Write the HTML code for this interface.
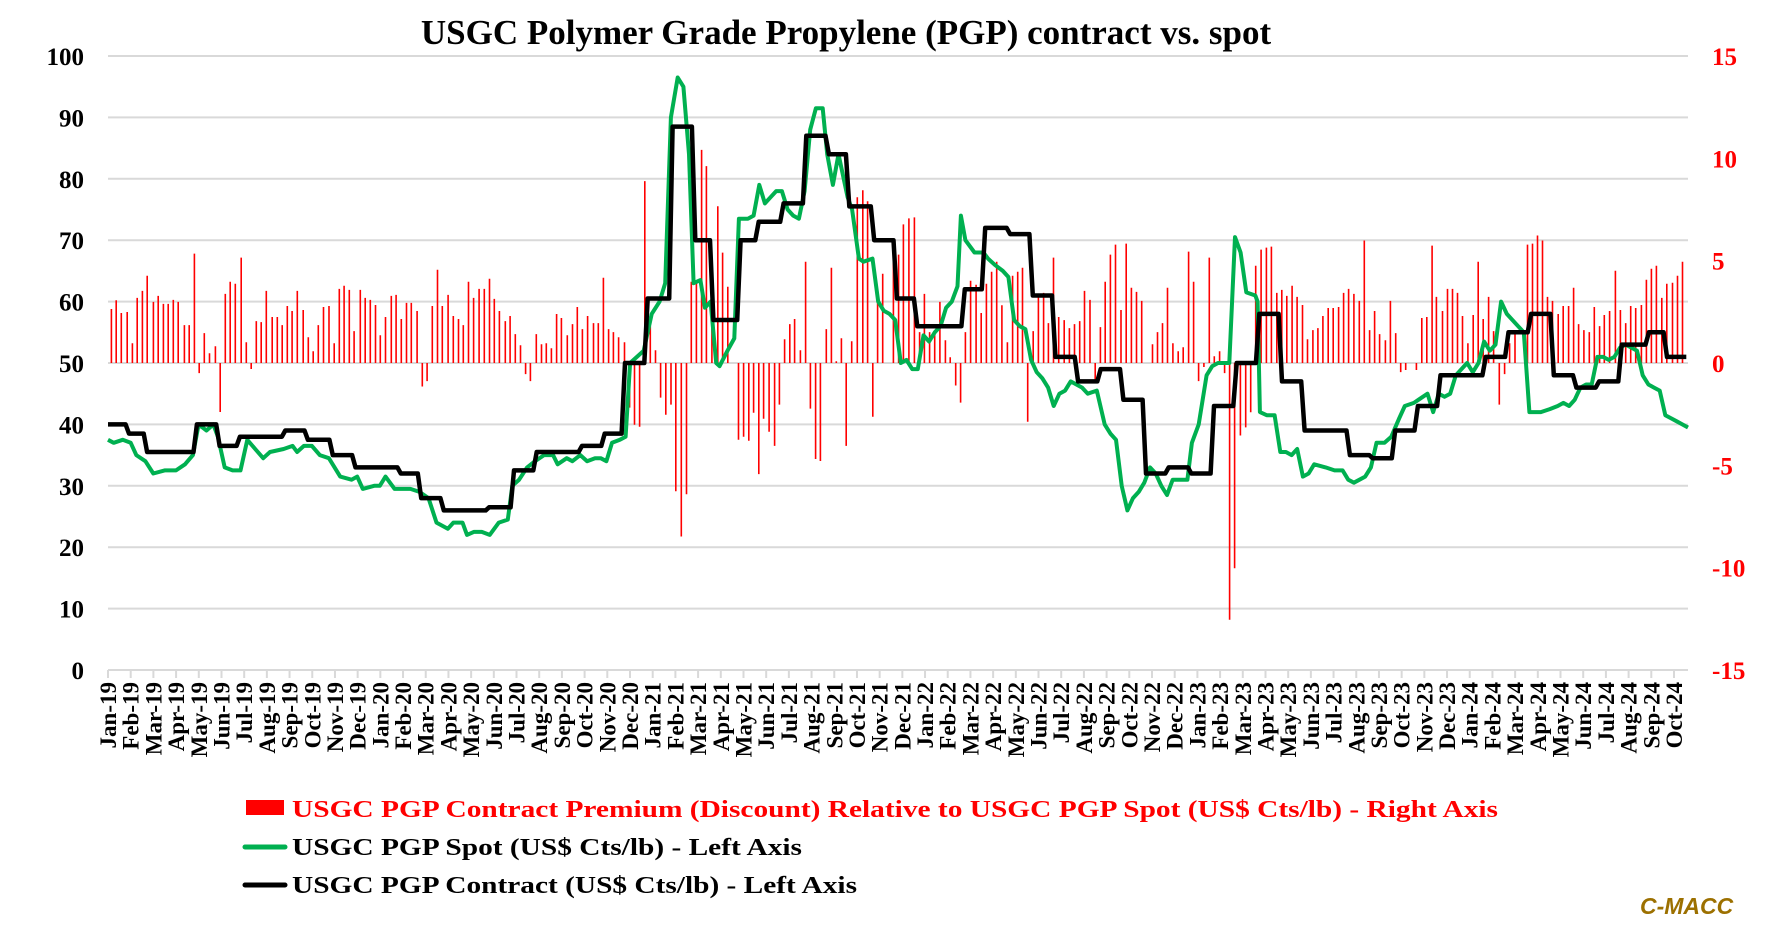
<!DOCTYPE html>
<html><head><meta charset="utf-8">
<style>
html,body{margin:0;padding:0;background:#fff;}
body{width:1770px;height:925px;overflow:hidden;position:relative;font-family:"Liberation Serif",serif;}
svg{position:absolute;left:0;top:0;}
</style></head>
<body>
<svg id="c" width="1770" height="925" xmlns="http://www.w3.org/2000/svg"></svg>
<script>
const S=document.getElementById('c');const NS='http://www.w3.org/2000/svg';
function el(t,a,txt){const e=document.createElementNS(NS,t);for(const k in a)e.setAttribute(k,a[k]);if(txt!==undefined)e.textContent=txt;S.appendChild(e);return e;}
const L=108,R=1688,T=56,B=670;
const Y=v=>B-v*(B-T)/100;
const YR=v=>(T+B)/2-v*(B-T)/30;
const X=dx=>L+(dx-95)*(R-L)/(1490-95);
el('text',{x:846,y:44,'text-anchor':'middle','font-size':35,'font-weight':'bold',fill:'#000'},'USGC Polymer Grade Propylene (PGP) contract vs. spot');
for(let v=0;v<=100;v+=10){el('line',{x1:L,x2:R,y1:Y(v),y2:Y(v),stroke:'#d9d9d9','stroke-width':2});
el('text',{x:84,y:Y(v)+9,'text-anchor':'end','font-size':25,'font-weight':'bold'},String(v));}
[15,10,5,0,-5,-10,-15].forEach(v=>el('text',{x:1712,y:YR(v)+9,'font-size':25,'font-weight':'bold',fill:'#f00'},String(v)));
const mn=['Jan','Feb','Mar','Apr','May','Jun','Jul','Aug','Sep','Oct','Nov','Dec'];
let labs=[];for(let y=19;y<=24;y++)for(let m=0;m<12;m++){if(y==24&&m>9)break;labs.push(mn[m]+'-'+y);}
const lx0=108,lx1=1674;
labs.forEach((s,i)=>{const x=lx0+i*(lx1-lx0)/(labs.length-1);
el('line',{x1:x,x2:x,y1:B,y2:B+8,stroke:'#d9d9d9','stroke-width':2});
el('text',{x:0,y:0,transform:`translate(${x+8},${B+12}) rotate(-90)`,'text-anchor':'end','font-size':23,'font-weight':'bold'},s);});
const C=[[95,112,40],[112,128,38.5],[128,172,35.5],[172,192,40],[192,210,36.5],[210,250,38],[250,270,39],[270,292,37.5],[292,312,35],[312,352,33],[352,370,32],[370,390,28],[390,430,26],[430,452,26.5],[452,472,32.5],[472,512,35.5],[512,532,36.5],[532,550,38.5],[550,570,50],[570,592,60.5],[592,612,88.5],[612,628,70],[628,652,57],[652,668,70],[668,690,73],[690,710,76],[710,730,87],[730,748,84],[748,770,75.5],[770,790,70],[790,808,60.5],[808,850,56],[850,868,62],[868,890,72],[890,910,71],[910,930,61],[930,950,51],[950,970,47],[970,990,49],[990,1010,44],[1010,1030,32],[1030,1050,33],[1050,1070,32],[1070,1090,43],[1090,1110,50],[1110,1130,58],[1130,1150,47],[1150,1190,39],[1190,1210,35],[1210,1230,34.5],[1230,1250,39],[1250,1270,43],[1270,1310,48],[1310,1330,51],[1330,1350,55],[1350,1370,58],[1370,1390,48],[1390,1410,46],[1410,1430,47],[1430,1454,53],[1454,1470,55],[1470,1490,51]];
const SP=[[95,37.5],[100,37],[108,37.5],[115,37],[120,35],[128,34],[135,32],[145,32.5],[155,32.5],[163,33.5],[170,35],[175,40],[182,39],[188,40],[192,38],[198,33],[205,32.5],[212,32.5],[218,37.5],[225,36],[232,34.5],[238,35.5],[250,36],[258,36.5],[262,35.5],[268,36.5],[275,36.5],[282,35],[290,34.5],[300,31.5],[310,31],[315,31.5],[320,29.5],[330,30],[335,30],[340,31.5],[348,29.5],[355,29.5],[362,29.5],[370,29],[378,28],[385,24],[395,23],[400,24],[408,24],[412,22],[418,22.5],[425,22.5],[432,22],[440,24],[448,24.5],[452,30],[458,31],[465,33],[472,34],[480,35],[488,35],[492,33.5],[500,34.5],[505,34],[512,35],[518,34],[525,34.5],[530,34.5],[535,34],[540,37],[547,37.5],[552,38],[556,50],[562,51],[568,52],[575,58],[582,60],[587,63],[592,90],[598,96.5],[603,95],[608,84],[612,63],[618,63.5],[622,59],[627,60],[632,50],[635,49.5],[642,52],[648,54],[652,73.5],[660,73.5],[665,74],[670,79],[675,76],[680,77],[685,78],[690,78],[695,75],[700,74],[705,73.5],[710,78],[715,88],[720,91.5],[726,91.5],[730,84],[735,79],[740,84],[748,77],[752,75],[758,67],[762,66.5],[770,67],[775,60],[780,58.5],[785,58],[790,57],[795,50],[800,50.5],[805,49],[810,49],[815,54.5],[820,53.5],[825,55],[830,56],[835,59],[840,60],[845,62.5],[848,74],[852,70],[860,68],[868,68],[872,67],[878,66],[885,65],[890,64],[895,57],[900,56],[905,55.5],[910,50.5],[915,48.5],[920,47.5],[925,46],[930,43],[935,45],[940,45.5],[945,47],[950,46.5],[955,46],[960,45],[968,45.5],[975,40],[980,38.5],[985,37.5],[990,30],[995,26],[1000,28],[1005,29],[1010,30.5],[1015,33],[1020,32],[1025,30],[1030,28.5],[1035,31],[1040,31],[1048,31],[1052,37],[1058,40],[1065,48],[1070,49.5],[1075,50],[1085,50],[1090,70.5],[1095,68],[1100,61.5],[1108,61],[1110,60],[1112,42],[1118,41.5],[1125,41.5],[1130,35.5],[1135,35.5],[1140,35],[1145,36],[1150,31.5],[1155,32],[1160,33.5],[1170,33],[1178,32.5],[1185,32.5],[1190,31],[1195,30.5],[1200,31],[1205,31.5],[1210,33],[1215,37],[1222,37],[1228,38],[1235,41],[1240,43],[1248,43.5],[1252,44],[1260,45],[1265,42],[1270,45],[1275,44.5],[1280,45],[1285,48],[1295,50],[1300,48.5],[1305,50],[1310,53.5],[1315,52],[1320,53],[1325,60],[1330,58],[1340,56],[1345,55],[1350,42],[1355,42],[1360,42],[1368,42.5],[1375,43],[1380,43.5],[1385,43],[1390,44],[1395,46],[1400,46.5],[1405,46.5],[1410,51],[1415,51],[1420,50.5],[1425,51],[1430,52.5],[1435,53],[1440,52.5],[1445,52],[1450,48],[1455,46.5],[1460,46],[1465,45.5],[1470,41.5],[1475,41],[1480,40.5],[1485,40],[1490,39.5]];
const Z1=[[33,531],[47,505],[62,543],[79,540],[94,633],[108,498],[123,477],[137,432],[155,510],[169,492],[184,516],[198,516],[213,504],[227,510],[245,579],[259,579],[274,366],[288,722],[303,603],[318,663],[335,642],[349,838],[364,486],[378,450],[393,456],[410,378],[425,630],[439,710],[454,567],[468,570],[483,477],[500,555],[515,555],[529,579],[544,522],[558,537],[573,477],[590,534],[605,615],[619,657],[634,579],[649,525],[665,522],[680,633],[695,471],[709,462],[724,474],[738,597],[756,474],[770,498],[785,504],[800,519],[814,609],[829,555],[846,492],[860,489],[875,561],[890,513],[904,513],[921,537],[936,762],[950,746],[965,522],[980,414],[994,522],[1011,489],[1026,552],[1041,561],[1055,579],[1070,450],[1085,498],[1101,471],[1116,471],[1131,441],[1145,501],[1160,537],[1177,567],[1191,552],[1206,606],[1221,639],[1236,725],[1250,746],[1267,606],[1282,636],[1296,633],[1311,648],[1326,546],[1340,558],[1357,609],[1372,576],[1386,525],[1401,591],[1416,552],[1433,573],[1447,573],[1462,438],[1477,591],[1491,600],[1506,615]];
const Z2=[[13,630],[28,825],[42,876],[57,882],[72,150],[88,582],[103,654],[118,795],[133,846],[148,816],[162,1074],[178,1209],[193,1083],[207,450],[222,450],[237,57],[251,105],[267,480],[284,225],[298,363],[313,465],[344,921],[359,912],[374,924],[388,840],[403,1023],[417,858],[433,897],[449,939],[463,816],[478,621],[493,576],[507,561],[524,654],[539,390],[553,828],[568,978],[582,984],[599,591],[614,408],[628,687],[643,618],[657,939],[673,627],[689,198],[705,177],[719,210],[734,852],[748,504],[763,426],[794,348],[809,369],[823,279],[839,261],[855,258],[870,600],[884,486],[899,600],[914,600],[929,510],[945,624],[959,675],[975,759],[989,810],[1003,600],[1018,447],[1034,459],[1049,543],[1064,456],[1079,420],[1094,390],[1109,520],[1125,630],[1140,432],[1155,420],[1169,408],[1184,867],[1200,597],[1215,492],[1230,483],[1244,573],[1259,378],[1274,555],[1290,564],[1305,588],[1320,576],[1335,567],[1349,477],[1365,504],[1380,741],[1395,585],[1409,450],[1424,369],[1439,339],[1455,534],[1470,336],[1485,468],[1500,480],[1515,507]];
const Z3=[[35,636],[49,600],[63,573],[77,468],[92,633],[107,657],[121,645],[136,360],[150,450],[164,746],[179,704],[194,378],[208,672],[223,657],[237,722],[251,1457],[265,1304],[281,908],[296,884],[310,839],[324,402],[339,354],[354,348],[368,345],[383,483],[397,474],[411,492],[426,462],[440,495],[455,519],[469,621],[484,594],[498,588],[512,552],[527,528],[541,528],[556,525],[570,483],[584,471],[599,486],[614,507],[628,327],[643,594],[657,537],[671,606],[687,624],[701,507],[716,603],[730,719],[744,713],[760,695],[774,713],[789,558],[803,555],[818,342],[830,495],[847,537],[861,471],[875,471],[889,483],[903,552],[918,633],[933,549],[947,390],[961,561],[976,495],[990,597],[1006,816],[1021,725],[1035,633],[1050,600],[1085,339],[1099,336],[1113,312],[1127,327],[1141,495],[1155,507],[1171,546],[1185,522],[1200,522],[1214,468],[1228,576],[1243,594],[1258,600],[1272,525],[1287,582],[1300,549],[1315,537],[1331,417],[1345,534],[1360,573],[1374,522],[1388,528],[1404,519],[1418,444],[1432,411],[1446,402],[1461,498],[1475,456],[1491,453],[1505,432],[1519,390]];
let bp='';
function addB(arr,x0,sc){arr.forEach(b=>{const v=(692-b[1])/61;if(Math.abs(v)<0.05)return;const x=(x0+b[0]/sc).toFixed(1);bp+=`M${x} ${YR(0).toFixed(1)}V${YR(v).toFixed(1)}`;});}
addB(Z1,100,2.904);addB(Z2,620,2.904);addB(Z3,1140,2.8);
el('path',{d:bp,stroke:'#ff0000','stroke-width':1.6,fill:'none'});
el('path',{d:'M'+SP.map(p=>X(p[0]).toFixed(1)+' '+Y(p[1]).toFixed(1)).join('L'),stroke:'#00b050','stroke-width':4,fill:'none','stroke-linejoin':'round'});
let cd='';C.forEach((c,i)=>{const x1=X(c[0]+(i?1.5:0)),x2=X(c[1]-1.5);cd+=(i?'L':'M')+x1.toFixed(1)+' '+Y(c[2]).toFixed(1)+'L'+x2.toFixed(1)+' '+Y(c[2]).toFixed(1);});
el('path',{d:cd,stroke:'#000','stroke-width':4.5,fill:'none','stroke-linejoin':'round'});
el('rect',{x:246,y:800,width:38,height:15,fill:'#f00'});
el('text',{x:292,y:817,'font-size':24,'font-weight':'bold',fill:'#f00',textLength:1206,lengthAdjust:'spacingAndGlyphs'},'USGC PGP Contract Premium (Discount) Relative to USGC PGP Spot (US$ Cts/lb) - Right Axis');
el('line',{x1:245,x2:285,y1:847,y2:847,stroke:'#00b050','stroke-width':5,'stroke-linecap':'round'});
el('text',{x:292,y:855,'font-size':24,'font-weight':'bold',textLength:510,lengthAdjust:'spacingAndGlyphs'},'USGC PGP Spot (US$ Cts/lb) - Left Axis');
el('line',{x1:245,x2:285,y1:885,y2:885,stroke:'#000','stroke-width':5,'stroke-linecap':'round'});
el('text',{x:292,y:893,'font-size':24,'font-weight':'bold',textLength:565,lengthAdjust:'spacingAndGlyphs'},'USGC PGP Contract (US$ Cts/lb) - Left Axis');
el('text',{x:1640,y:914,'font-size':23,'font-weight':'bold','font-style':'italic','font-family':'Liberation Sans, sans-serif',fill:'#9c7000'},'C-MACC');
</script>
</body></html>
